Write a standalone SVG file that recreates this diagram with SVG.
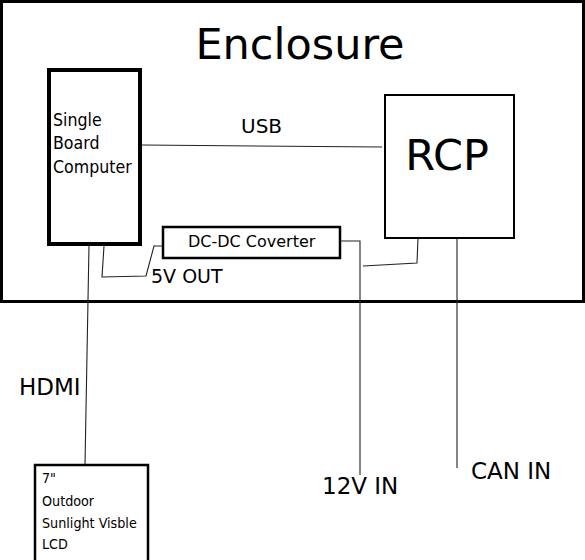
<svg xmlns="http://www.w3.org/2000/svg" width="585" height="560" viewBox="0 0 585 560">
<style>
.t{font-family:"DejaVu Sans","Liberation Sans",sans-serif;fill:#000}
.c{font-family:"DejaVu Sans Condensed","DejaVu Sans",sans-serif;font-stretch:condensed;fill:#000}
.box{fill:#fff;stroke:#000}
.ln{fill:none;stroke:#222;stroke-width:1.1}
</style>
<rect width="585" height="560" fill="#fff"/>
<g id="enclosure">
<rect x="1.5" y="1.5" width="582" height="300" fill="none" stroke="#000" stroke-width="3"/>
<text class="t" x="300" y="59" font-size="43" text-anchor="middle">Enclosure</text>
</g>
<g id="connectors">
<path class="ln" d="M142,145 L382,147"/>
<path class="ln" d="M104,246 L102,277 L146,276 L154,246 L163,246"/>
<path class="ln" d="M340,241 L360,241 L360,475"/>
<path class="ln" d="M418,238 L417,263 L363,266"/>
<path class="ln" d="M457,238 L457,468"/>
<path class="ln" d="M89,245 L85,465"/>
<text class="t" x="241" y="133" font-size="20">USB</text>
<text class="t" x="151" y="283" font-size="19">5V OUT</text>
<text class="t" x="19" y="395" font-size="23">HDMI</text>
<text class="t" x="322" y="494" font-size="23">12V IN</text>
<text class="t" x="471" y="479" font-size="23">CAN IN</text>
</g>
<g id="sbc">
<rect class="box" x="49" y="70" width="91" height="174" stroke-width="4"/>
<text class="c" font-size="17.6"><tspan x="53" y="126">Single</tspan><tspan x="53" y="149">Board</tspan><tspan x="53" y="173">Computer</tspan></text>
</g>
<g id="rcp">
<rect class="box" x="385" y="95" width="129" height="143" stroke-width="2"/>
<text class="t" x="447" y="170" font-size="43" text-anchor="middle">RCP</text>
</g>
<g id="dcdc">
<rect class="box" x="163" y="227" width="177" height="31" stroke-width="2.5"/>
<text class="t" x="188" y="247" font-size="16">DC-DC Coverter</text>
</g>
<g id="lcd">
<rect class="box" x="35" y="465" width="113" height="100" stroke-width="2.5"/>
<text class="c" font-size="14.2"><tspan x="42" y="483">7"</tspan><tspan x="42" y="506">Outdoor</tspan><tspan x="42" y="528">Sunlight Visble</tspan><tspan x="42" y="549">LCD</tspan></text>
</g>
</svg>
